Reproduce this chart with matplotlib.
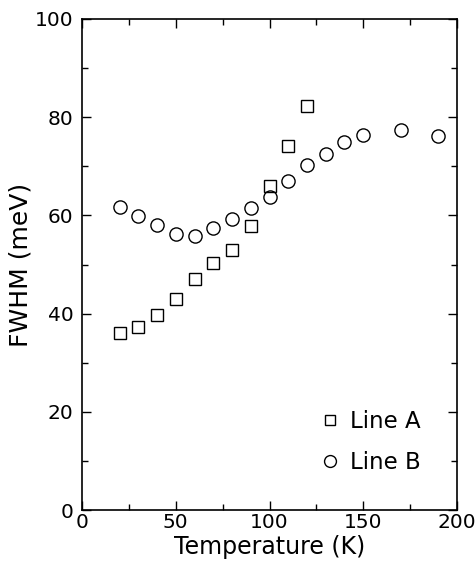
import matplotlib
matplotlib.use("Agg")
import matplotlib.pyplot as plt
from matplotlib.ticker import MultipleLocator

# data
temp_a = [20, 30, 40, 50, 60, 70, 80, 90, 100, 110, 120]
fwhm_a = [36.0, 37.3, 39.8, 42.9, 47.0, 50.4, 53.0, 57.8, 66.0, 74.1, 82.2]

temp_b = [20, 30, 40, 50, 60, 70, 80, 90, 100, 110, 120, 130, 140, 150, 170, 190]
fwhm_b = [61.8, 59.9, 58.0, 56.3, 55.9, 57.5, 59.2, 61.6, 63.8, 67.1, 70.3,
          72.6, 74.9, 76.4, 77.4, 76.2]

plt.rcParams['font.family'] = ['DejaVu Sans']

fig = plt.figure(figsize=(4.77, 5.72), dpi=100)
ax = fig.add_axes([0.172, 0.108, 0.786, 0.859])

ax.plot(temp_a, fwhm_a, 's', ms=8, mfc='none', mec='black', mew=1.0, label='Line A')
ax.plot(temp_b, fwhm_b, 'o', ms=9.5, mfc='none', mec='black', mew=1.0, label='Line B')

ax.set_xlim(0, 200)
ax.set_ylim(0, 100)
ax.xaxis.set_major_locator(MultipleLocator(50))
ax.xaxis.set_minor_locator(MultipleLocator(25))
ax.yaxis.set_major_locator(MultipleLocator(20))
ax.yaxis.set_minor_locator(MultipleLocator(10))
ax.tick_params(which='both', direction='in', top=True, right=True, labelsize=14.5, width=1)
ax.tick_params(which='major', length=6.5)
ax.tick_params(which='minor', length=4)
ax.tick_params(axis='x', which='major', pad=2)
ax.tick_params(axis='y', which='major', pad=6)
for s in ax.spines.values():
    s.set_linewidth(1.2)

ax.set_xlabel('Temperature (K)', fontsize=17, labelpad=2)
ax.set_ylabel('FWHM (meV)', fontsize=18, labelpad=2)

ax.legend(loc='lower right', frameon=False, fontsize=16.5, handletextpad=0.35,
          labelspacing=0.77, borderaxespad=1.2, handlelength=1.0, markerscale=0.9)

fig.savefig('out.png', dpi=100)
